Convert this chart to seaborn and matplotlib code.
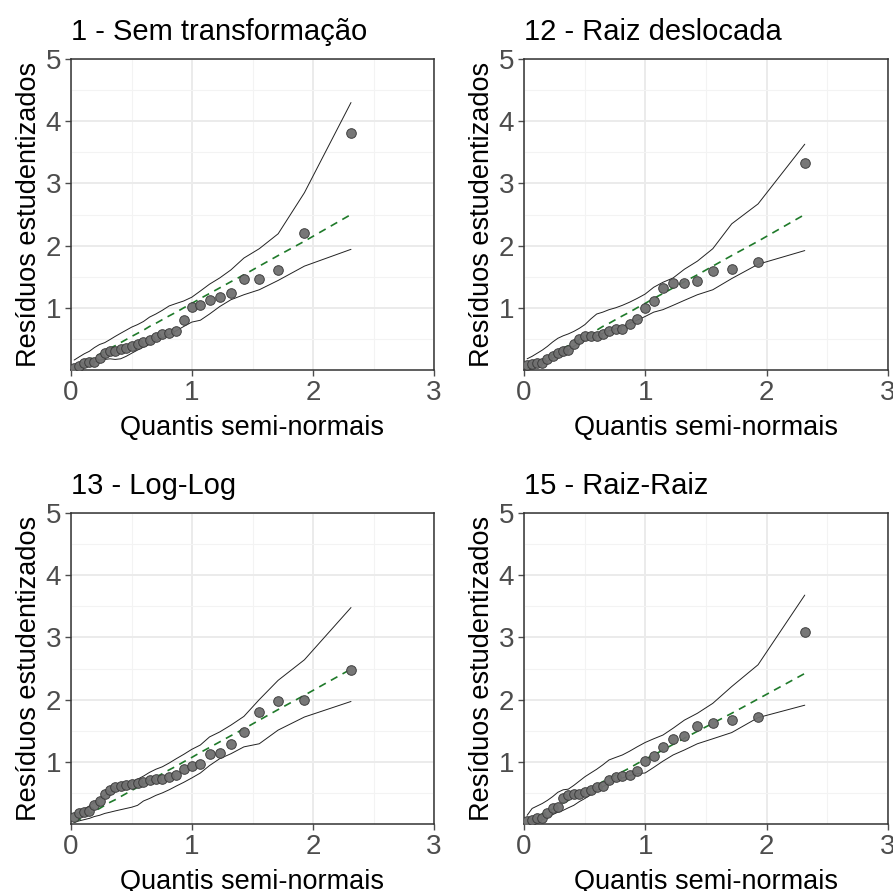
import matplotlib
matplotlib.use("Agg")
import matplotlib.pyplot as plt
import seaborn as sns
import numpy as np
import pandas as pd

# half-normal quantiles (x positions), n = 30
quantis = [0.026, 0.067, 0.109, 0.151, 0.193, 0.236, 0.279, 0.323, 0.365, 0.410,
           0.456, 0.502, 0.550, 0.599, 0.649, 0.701, 0.755, 0.811, 0.870, 0.932,
           0.998, 1.069, 1.145, 1.229, 1.322, 1.429, 1.556, 1.712, 1.929, 2.314]

titulos = ["1 - Sem transformação", "12 - Raiz deslocada", "13 - Log-Log", "15 - Raiz-Raiz"]

res_1 = [0.03, 0.06, 0.11, 0.13, 0.13, 0.19, 0.28, 0.30, 0.31, 0.34, 0.36, 0.38, 0.41, 0.45, 0.48,
         0.53, 0.58, 0.60, 0.62, 0.81, 1.01, 1.05, 1.13, 1.18, 1.24, 1.46, 1.47, 1.61, 2.20, 3.81]
sup_1 = [0.16, 0.21, 0.26, 0.30, 0.36, 0.41, 0.44, 0.49, 0.54, 0.59, 0.64, 0.69, 0.73, 0.78, 0.85,
         0.90, 0.96, 1.03, 1.07, 1.11, 1.17, 1.27, 1.38, 1.48, 1.61, 1.80, 1.95, 2.19, 2.85, 4.30]
inf_1 = [0.00, 0.03, 0.06, 0.10, 0.13, 0.16, 0.17, 0.18, 0.17, 0.18, 0.22, 0.27, 0.32, 0.37, 0.41,
         0.47, 0.52, 0.57, 0.63, 0.70, 0.77, 0.80, 0.90, 1.02, 1.13, 1.21, 1.29, 1.44, 1.67, 1.94]
med_1 = [0.03, 0.07, 0.12, 0.16, 0.21, 0.25, 0.30, 0.35, 0.39, 0.44, 0.49, 0.54, 0.59, 0.64, 0.70,
         0.75, 0.81, 0.87, 0.93, 1.00, 1.07, 1.15, 1.23, 1.32, 1.42, 1.53, 1.67, 1.84, 2.07, 2.50]

res_2 = [0.08, 0.10, 0.11, 0.11, 0.18, 0.23, 0.28, 0.31, 0.32, 0.42, 0.50, 0.54, 0.55, 0.55, 0.58,
         0.63, 0.66, 0.66, 0.74, 0.82, 0.99, 1.11, 1.32, 1.40, 1.40, 1.43, 1.59, 1.62, 1.74, 3.32]
sup_2 = [0.18, 0.22, 0.27, 0.32, 0.38, 0.45, 0.51, 0.55, 0.58, 0.62, 0.67, 0.73, 0.82, 0.90, 0.93,
         0.97, 1.00, 1.04, 1.09, 1.15, 1.22, 1.33, 1.41, 1.48, 1.62, 1.75, 1.95, 2.35, 2.67, 3.63]
inf_2 = [0.00, 0.02, 0.05, 0.09, 0.14, 0.19, 0.24, 0.28, 0.32, 0.38, 0.43, 0.47, 0.51, 0.55, 0.59,
         0.63, 0.66, 0.70, 0.75, 0.80, 0.86, 0.93, 0.97, 1.04, 1.12, 1.21, 1.29, 1.47, 1.70, 1.92]
med_2 = [0.03, 0.07, 0.12, 0.16, 0.21, 0.25, 0.30, 0.35, 0.39, 0.44, 0.49, 0.54, 0.59, 0.64, 0.70,
         0.75, 0.81, 0.87, 0.93, 1.00, 1.07, 1.15, 1.23, 1.32, 1.42, 1.53, 1.67, 1.84, 2.07, 2.50]

res_3 = [0.11, 0.17, 0.19, 0.21, 0.30, 0.37, 0.48, 0.54, 0.59, 0.61, 0.62, 0.65, 0.66, 0.67, 0.70,
         0.72, 0.73, 0.75, 0.78, 0.89, 0.93, 0.96, 1.13, 1.14, 1.29, 1.48, 1.80, 1.97, 1.99, 2.48]
sup_3 = [0.14, 0.19, 0.24, 0.29, 0.35, 0.41, 0.46, 0.51, 0.56, 0.61, 0.65, 0.68, 0.72, 0.77, 0.83,
         0.88, 0.92, 0.98, 1.05, 1.12, 1.20, 1.27, 1.40, 1.48, 1.59, 1.73, 2.00, 2.31, 2.64, 3.48]
inf_3 = [0.03, 0.05, 0.07, 0.09, 0.12, 0.14, 0.17, 0.19, 0.21, 0.23, 0.25, 0.27, 0.30, 0.37, 0.41,
         0.46, 0.50, 0.55, 0.61, 0.67, 0.74, 0.82, 0.94, 1.05, 1.13, 1.24, 1.29, 1.51, 1.72, 1.97]
med_3 = [0.03, 0.07, 0.12, 0.16, 0.21, 0.25, 0.30, 0.35, 0.39, 0.44, 0.49, 0.54, 0.59, 0.64, 0.70,
         0.75, 0.81, 0.87, 0.93, 1.00, 1.07, 1.15, 1.23, 1.32, 1.42, 1.53, 1.67, 1.84, 2.07, 2.49]

res_4 = [0.05, 0.06, 0.09, 0.10, 0.17, 0.25, 0.27, 0.41, 0.46, 0.49, 0.49, 0.52, 0.55, 0.60, 0.61,
         0.70, 0.76, 0.77, 0.79, 0.85, 1.01, 1.10, 1.23, 1.37, 1.42, 1.58, 1.63, 1.68, 1.72, 3.08]
sup_4 = [0.14, 0.25, 0.29, 0.33, 0.38, 0.44, 0.51, 0.55, 0.56, 0.62, 0.69, 0.76, 0.82, 0.88, 0.95,
         1.03, 1.07, 1.11, 1.17, 1.24, 1.31, 1.37, 1.43, 1.54, 1.67, 1.78, 1.94, 2.21, 2.56, 3.68]
inf_4 = [0.00, 0.01, 0.04, 0.07, 0.10, 0.15, 0.19, 0.22, 0.26, 0.30, 0.36, 0.41, 0.47, 0.54, 0.60,
         0.65, 0.69, 0.74, 0.78, 0.81, 0.82, 0.91, 1.01, 1.11, 1.19, 1.29, 1.37, 1.47, 1.71, 1.91]
med_4 = [0.03, 0.07, 0.11, 0.16, 0.20, 0.24, 0.29, 0.34, 0.38, 0.43, 0.48, 0.52, 0.57, 0.62, 0.68,
         0.73, 0.79, 0.84, 0.90, 0.97, 1.04, 1.11, 1.19, 1.28, 1.38, 1.49, 1.62, 1.78, 2.01, 2.42]

x_ticks = [0, 1, 2, 3]
y_ticks = [1, 2, 3, 4, 5]

paineis = [(res_1, sup_1, inf_1, med_1), (res_2, sup_2, inf_2, med_2),
           (res_3, sup_3, inf_3, med_3), (res_4, sup_4, inf_4, med_4)]

sns.set_theme(style="white")
plt.rcParams['font.family'] = ['Liberation Sans', 'DejaVu Sans']

W, H = 893, 891
fig = plt.figure(figsize=(W / 100, H / 100), dpi=100)
fig.patch.set_facecolor("white")

# pixel boxes: left, top, right, bottom
caixas = [(71, 59, 434, 370), (524, 59, 888, 370), (71, 513, 434, 824), (524, 513, 888, 824)]

for k, ((res, sup, inf, med), (l, t, r, b)) in enumerate(zip(paineis, caixas)):
    ax = fig.add_axes([l / W, 1 - b / H, (r - l) / W, (b - t) / H])
    df = pd.DataFrame({"q": quantis, "res": res, "sup": sup, "inf": inf, "med": med})
    ax.set_axisbelow(True)
    sns.lineplot(data=df, x="q", y="sup", ax=ax, color="#222222", linewidth=0.7, estimator=None, sort=False)
    sns.lineplot(data=df, x="q", y="inf", ax=ax, color="#222222", linewidth=0.7, estimator=None, sort=False)
    sns.lineplot(data=df, x="q", y="med", ax=ax, color="#1f7a2a", linewidth=1.2, estimator=None,
                 sort=False, dashes=False, linestyle=(0, (4.5, 3.5)))
    sns.scatterplot(data=df, x="q", y="res", ax=ax, s=48, color="#707070", edgecolor="#3a3a3a",
                    linewidth=0.7, alpha=0.95, zorder=5)
    ax.set_xlim(0, 3)
    ax.set_ylim(0, 5)
    ax.set_xticks(x_ticks)
    ax.set_yticks(y_ticks)
    ax.set_xticks([0.5, 1.5, 2.5], minor=True)
    ax.set_yticks([0.5, 1.5, 2.5, 3.5, 4.5], minor=True)
    ax.grid(which="major", color="#EBEBEB", linewidth=1.4)
    ax.grid(which="minor", color="#F3F3F3", linewidth=0.8)
    for s in ax.spines.values():
        s.set_color("#333333")
        s.set_linewidth(1.1)
    ax.tick_params(axis="both", which="major", labelsize=20, colors="#4D4D4D", length=4,
                   width=1.0, direction="out", pad=3, bottom=True, left=True)
    ax.tick_params(axis="both", which="minor", length=0)
    ax.set_xlabel("Quantis semi-normais", fontsize=19.5, color="black", labelpad=7)
    ax.set_ylabel("Resíduos estudentizados", fontsize=19.5, color="black", labelpad=3)
    ax.set_title(titulos[k], loc="left", fontsize=21, color="black", pad=14)

fig.savefig("out.png", dpi=100, facecolor="white")
